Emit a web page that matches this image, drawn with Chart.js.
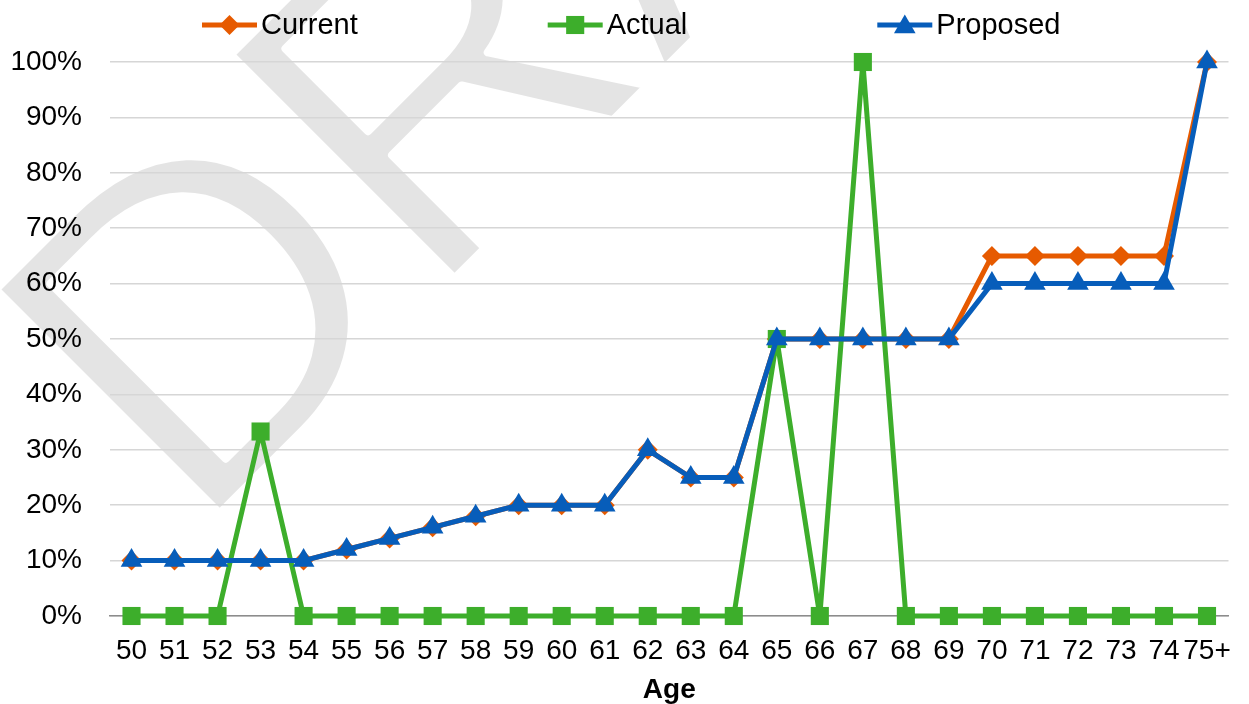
<!DOCTYPE html>
<html>
<head>
<meta charset="utf-8">
<script src="https://cdn.jsdelivr.net/npm/chart.js@4/dist/chart.umd.min.js"></script>
<style>
  html, body { margin: 0; padding: 0; background: #fff; }
  #wrap { width: 1249px; height: 704px; }
</style>
</head>
<body>
<div id="wrap"><canvas id="myChart" width="1249" height="704"></canvas></div>
<script>
  // categories (age)
  const ages = ['50', '51', '52', '53', '54', '55', '56', '57', '58', '59', '60', '61', '62',
    '63', '64', '65', '66', '67', '68', '69', '70', '71', '72', '73', '74', '75+'];
  // values in %
  const currentRates = [10, 10, 10, 10, 10, 12, 14, 16, 18, 20, 20, 20, 30,
    25, 25, 50, 50, 50, 50, 50, 65, 65, 65, 65, 65, 100];
  const actualRates = [0, 0, 0, 33.3, 0, 0, 0, 0, 0, 0, 0, 0, 0,
    0, 0, 50, 0, 100, 0, 0, 0, 0, 0, 0, 0, 0];
  const proposedRates = [10, 10, 10, 10, 10, 12, 14, 16, 18, 20, 20, 20, 30,
    25, 25, 50, 50, 50, 50, 50, 60, 60, 60, 60, 60, 100];
  const yTicks = [0, 10, 20, 30, 40, 50, 60, 70, 80, 90, 100];

  const FONT = '"Liberation Sans", Arial, sans-serif';
  const orange = '#E65A00';
  const green = '#3DAE2B';
  const blue = '#075DBA';

  // водяний знак "DRAFT" за графіком
  const watermark = {
    id: 'watermark',
    beforeDraw(chart) {
      const c = document.createElement('canvas');
      c.width = chart.width;
      c.height = chart.height;
      const g = c.getContext('2d');
      g.translate(193, 540);
      g.rotate(-Math.PI / 4);
      g.font = '460px ' + FONT;
      g.textBaseline = 'alphabetic';
      g.fillStyle = '#e4e4e4';
      g.fillText('DRAFT', 0, 0);
      // трохи тоншимо літери
      g.globalCompositeOperation = 'destination-out';
      g.lineWidth = 8;
      g.lineJoin = 'round';
      g.strokeText('DRAFT', 0, 0);
      chart.ctx.drawImage(c, 0, 0);
    }
  };

  function marker(ctx, style, x, y, r, color) {
    ctx.fillStyle = color;
    ctx.beginPath();
    if (style === 'rectRot') {
      ctx.moveTo(x - r, y); ctx.lineTo(x, y - r); ctx.lineTo(x + r, y); ctx.lineTo(x, y + r);
    } else if (style === 'rect') {
      const s = r * Math.SQRT1_2;
      ctx.rect(x - s, y - s, 2 * s, 2 * s);
    } else {
      ctx.moveTo(x, y - r); ctx.lineTo(x + r * 0.866, y + r * 0.5); ctx.lineTo(x - r * 0.866, y + r * 0.5);
    }
    ctx.closePath();
    ctx.fill();
  }

  // легенда як в Excel: широкі проміжки між пунктами
  const wideLegend = {
    id: 'wideLegend',
    afterDraw(chart) {
      const ctx = chart.ctx;
      ctx.save();
      ctx.font = '29px ' + FONT;
      ctx.textBaseline = 'middle';
      const y = 25;
      let x = 202;
      chart.data.datasets.forEach(ds => {
        ctx.strokeStyle = ds.borderColor;
        ctx.lineWidth = 5;
        ctx.beginPath();
        ctx.moveTo(x, y);
        ctx.lineTo(x + 55, y);
        ctx.stroke();
        marker(ctx, ds.pointStyle, x + 27.5, y + (ds.pointStyle === 'triangle' ? 2 : 0), ds.pointRadius, ds.borderColor);
        ctx.fillStyle = '#000';
        ctx.fillText(ds.label, x + 59, y + 1);
        x += 59 + ctx.measureText(ds.label).width + 190;
      });
      ctx.restore();
    }
  };

  const ctx = document.getElementById('myChart').getContext('2d');

  const myChart = new Chart(ctx, {
    type: 'line',
    data: {
      labels: ages,
      datasets: [{
        label: 'Current',
        data: currentRates,
        borderColor: orange,
        backgroundColor: orange,
        borderWidth: 5,
        borderJoinStyle: 'round',
        pointStyle: 'rectRot',
        pointRadius: 10,
        pointBorderWidth: 0,
        order: 3,
        clip: false,
        fill: false,
      }, {
        label: 'Actual',
        data: actualRates,
        borderColor: green,
        backgroundColor: green,
        borderWidth: 5,
        borderJoinStyle: 'round',
        pointStyle: 'rect',
        pointRadius: 12.8,
        pointBorderWidth: 0,
        order: 2,
        clip: false,
        fill: false,
      }, {
        label: 'Proposed',
        data: proposedRates,
        borderColor: blue,
        backgroundColor: blue,
        borderWidth: 5,
        borderJoinStyle: 'round',
        pointStyle: 'triangle',
        pointRadius: 12.5,
        pointBorderWidth: 0,
        order: 1,
        clip: false,
        fill: false,
      }],
    },
    options: {
      responsive: false,
      animation: false,
      layout: { padding: { left: 10, right: 12, top: 62, bottom: 0 } },
      plugins: {
        legend: { display: false },
        tooltip: { enabled: false },
      },
      scales: {
        x: {
          offset: true,
          grid: { display: false, drawTicks: false },
          border: { display: true, color: '#8c8c8c', width: 1.5 },
          ticks: {
            autoSkip: false,
            maxRotation: 0,
            minRotation: 0,
            padding: 18,
            color: '#000',
            font: { family: FONT, size: 28 },
          },
          title: {
            display: true,
            text: 'Age',
            color: '#000',
            padding: 0,
            font: { family: FONT, size: 28, weight: 'bold', lineHeight: 1 },
          },
          afterFit(s) { s.height = 88; },
        },
        y: {
          min: 0,
          max: 100,
          afterBuildTicks(s) { s.ticks = yTicks.map(v => ({ value: v })); },
          grid: { color: '#d6d6d6', lineWidth: 1.5, drawTicks: false },
          border: { display: false },
          ticks: {
            padding: 28,
            color: '#000',
            font: { family: FONT, size: 28 },
            callback: v => v + '%',
          },
          afterFit(s) { s.width = 100; },
        },
      },
    },
    plugins: [watermark, wideLegend],
  });
</script>
</body>
</html>
